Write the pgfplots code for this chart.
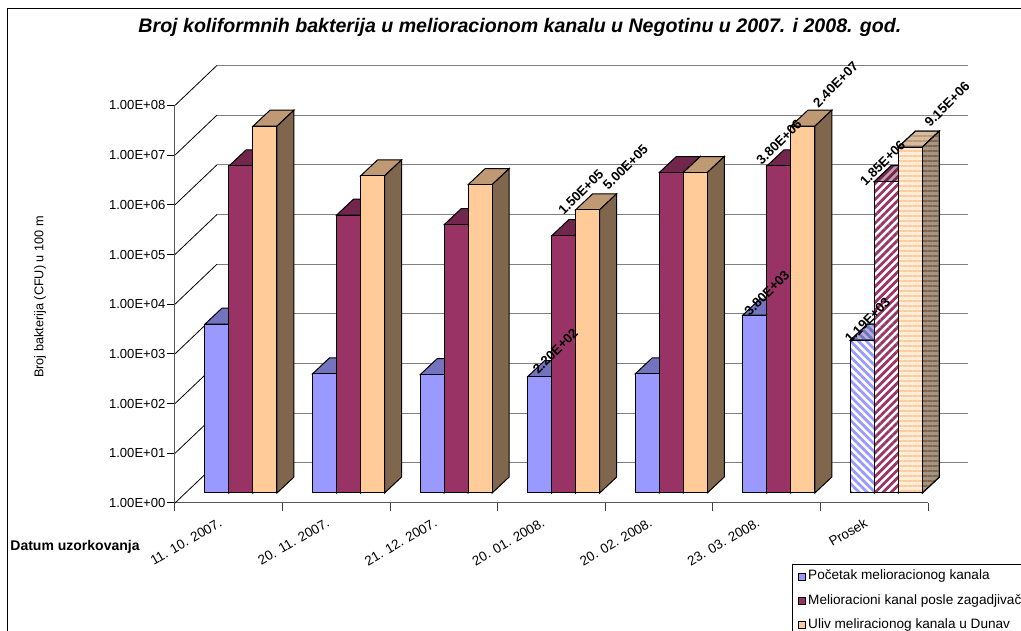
\documentclass[border=0pt]{standalone}
\usepackage{fontspec}
\setmainfont{Liberation Sans}
\usepackage{pgfplots}
\usepackage{pgfplotstable}
\pgfplotsset{compat=1.18}
\usetikzlibrary{patterns.meta}

\definecolor{sa}{HTML}{9999FF}
\definecolor{sb}{HTML}{993366}
\definecolor{sc}{HTML}{FFCC99}
\definecolor{satop}{HTML}{7373BF}
\definecolor{sbtop}{HTML}{73264D}
\definecolor{sctop}{HTML}{BF9973}
\definecolor{scside}{HTML}{80664D}
\definecolor{wall}{HTML}{808080}

% values per sampling date, one column per series
\pgfplotstableread{
x s1 s2 s3
0 2.5e3 3.8e6 2.4e7
1 2.5e2 3.9e5 2.4e6
2 2.4e2 2.5e5 1.6e6
3 2.2e2 1.5e5 5e5
4 2.5e2 2.8e6 2.8e6
5 3.8e3 3.8e6 2.4e7
}\dates
\pgfplotstableread{
x s1 s2 s3
6 1.19e3 1.85e6 9.15e6
}\prosek
% the printed labels, dx dy = offset of the text start from the bar top centre
\pgfplotstableread{
x y dx dy label
2.776 2.2e2 -1.5 2 2.20E+02
3 1.5e5 0 20 1.50E+05
3.224 5e5 20.5 19 5.00E+05
4.776 3.8e3 -5 -1.5 3.80E+03
5 3.8e6 -17 0 3.80E+06
5.224 2.4e7 15.5 18 2.40E+07
5.776 1.19e3 -12 -4 1.19E+03
6 1.85e6 -21 -5 1.85E+06
6.224 9.15e6 19.5 19 9.15E+06
}\labelstab

\pgfdeclareplotmark{nix}{}

\pgfplotsset{
  frontbar/.style={ybar, bar width=24pt, bar shift=#1, draw=black, line width=1pt,
    legend image code/.code={\draw[##1, line width=0.8pt] (0pt,-3.5pt) rectangle (7pt,3.5pt);}},
  % the three faces of a bar, drawn from its top front edge
  cuboid/.style n args={4}{
    only marks, mark=nix, scatter, forget plot,
    visualization depends on={rawy \as \ry},
    scatter/@pre marker code/.code={%
      \begingroup
      \pgfkeys{/pgf/fpu,/pgf/fpu/output format=fixed}%
      \pgfmathparse{ln(\ry)*21.5845}%
      \global\let\barh\pgfmathresult
      \endgroup
      \scope[line width=1pt,draw=black]
      \path[draw,#2] (#1-12pt,0pt)--(#1+12pt,0pt)--(#1+29pt,16pt)--(#1+5pt,16pt)--cycle;
      \path[draw,#3] (#1+12pt,0pt)--(#1+29pt,16pt)--(#1+29pt,16pt-\barh pt)--(#1+12pt,-\barh pt)--cycle;
      \path[draw,#4] (#1-12pt,0pt)--(#1+12pt,0pt)--(#1+12pt,-\barh pt)--(#1-12pt,-\barh pt)--cycle;
    },
    scatter/@post marker code/.code={\endscope},
  },
}
\tikzset{
  stripes/.style n args={4}{preaction={fill=#4},
    pattern={Lines[angle=#1,distance=#3,line width=0.5*#3]},pattern color=#2},
}

\newcommand{\fs}[1]{\fontsize{#1}{#1}\selectfont}

\begin{document}
\begin{tikzpicture}[x=1pt,y=1pt]
\useasboundingbox (0,0) rectangle (1021,631);
\clip (0,0) rectangle (1021,631);
\draw[line width=1.2pt] (7.5,-5) -- (7.5,622.5) -- (1030,622.5);

% front plane: ticks, labels, back wall lines and side wall diagonals
\begin{axis}[
  at={(175pt,128pt)}, scale only axis, width=753pt, height=397.6pt,
  ymode=log, xmin=0, xmax=7, ymin=1, ymax=1e8, clip=false,
  axis x line=bottom, axis y line=left,
  axis line style={-, draw=black!65, line width=1pt},
  ytick={1,1e1,1e2,1e3,1e4,1e5,1e6,1e7,1e8},
  yticklabels={1.00E+00,1.00E+01,1.00E+02,1.00E+03,1.00E+04,1.00E+05,1.00E+06,1.00E+07,1.00E+08},
  yminorticks=false,
  xtick={0.5,1.5,2.5,3.5,4.5,5.5,6.5},
  xticklabels={11. 10. 2007.,20. 11. 2007.,21. 12. 2007.,20. 01. 2008.,20. 02. 2008.,23. 03. 2008.,Prosek},
  minor xtick={0,1,2,3,4,5,6,7},
  tick align=outside,
  major x tick style={draw=none},
  minor x tick style={draw=black!75, line width=1pt},
  minor tick length=8pt,
  y tick style={draw=black, line width=1pt}, major tick length=8pt,
  ticklabel style={font=\fs{13.1}},
  yticklabel style={xshift=2pt},
  xticklabel style={rotate=30, anchor=north east, xshift=-9pt, yshift=3pt, font=\fs{13.4}},
  title={\bfseries\itshape Broj koliformnih bakterija u melioracionom kanalu u Negotinu u 2007. i 2008. god.},
  title style={at={(0.458,1.18)}, anchor=center, font=\fs{19.6}},
  xlabel={\bfseries Datum uzorkovanja},
  xlabel style={at={(-0.1328,-0.11)}, anchor=center, font=\fs{14}},
  ylabel={Broj bakterija (CFU) u 100 m},
  ylabel style={at={(-0.179,0.518)}, anchor=center, rotate=0, font=\fs{12.7}},
]
\pgfplotsinvokeforeach{0,...,8}{
  \draw[wall, line width=1pt] (axis cs:0,1e#1) ++(42pt,40pt) -- ++(751pt,0pt);
  \draw[black, line width=0.8pt] (axis cs:0,1e#1) -- ++(42pt,40pt);
}
\end{axis}

% bars, with the true scale running from the floor 10 px behind the front
\begin{axis}[
  at={(187.2pt,138pt)}, scale only axis, width=753pt, height=397.6pt,
  ymode=log, log origin=infty, xmin=-0.5, xmax=6.5, ymin=1, ymax=1e8,
  hide axis, clip=false,
  legend cell align=left,
  legend style={at={(0.8032,-0.1786)}, anchor=north west, draw=black, line width=0.8pt,
    font=\fs{13.6}, row sep=7.2pt, inner xsep=6pt, inner ysep=3.5pt,
    nodes={text height=10pt, text depth=3pt},
    /tikz/every even column/.append style={column sep=7pt}},
]
\addplot[frontbar=-24pt, fill=sa] table[x=x,y=s1] {\dates};
\addlegendentry{Početak melioracionog kanala}
\addplot[frontbar=0pt, fill=sb] table[x=x,y=s2] {\dates};
\addlegendentry{Melioracioni kanal posle zagadjivača\hspace{25pt}}
\addplot[frontbar=24pt, fill=sc] table[x=x,y=s3] {\dates};
\addlegendentry{Uliv meliracionog kanala u Dunav}
\addplot[frontbar=-24pt, forget plot, fill=sa] table[x=x,y=s1] {\prosek};
\addplot[frontbar=0pt, forget plot, fill=sb] table[x=x,y=s2] {\prosek};
\addplot[frontbar=24pt, forget plot, fill=sc] table[x=x,y=s3] {\prosek};

\addplot[cuboid={-24pt}{fill=satop}{fill=black!50}{fill=sa}] table[x=x,y=s1] {\dates};
\addplot[cuboid={0pt}{fill=sbtop}{fill=sbtop}{fill=sb}] table[x=x,y=s2] {\dates};
\addplot[cuboid={24pt}{fill=sctop}{fill=scside}{fill=sc}] table[x=x,y=s3] {\dates};

\addplot[cuboid={-24pt}{stripes={-45}{satop}{5.6pt}{satop!55!white}}{fill=black!50}{stripes={-45}{sa}{5.6pt}{white}}] table[x=x,y=s1] {\prosek};
\addplot[cuboid={0pt}{stripes={45}{sbtop}{5.6pt}{sbtop!45!white}}{fill=sbtop}{stripes={45}{sb}{5.6pt}{white}}] table[x=x,y=s2] {\prosek};
\addplot[cuboid={24pt}{stripes={0}{sctop}{5pt}{sctop!65!white}}{stripes={0}{scside}{5pt}{scside!70!white}}{stripes={0}{sc}{5pt}{sc!35!white}}] table[x=x,y=s3] {\prosek};

\addplot[only marks, mark=nix, forget plot,
  point meta=explicit symbolic,
  visualization depends on={\thisrow{dx} \as \dx},
  visualization depends on={\thisrow{dy} \as \dy},
  nodes near coords,
  nodes near coords style={anchor=base west, inner sep=0pt,
    shift={(\dx pt,\dy pt)}, rotate=45, font=\fs{13.3}\bfseries, text=black},
] table[x=x,y=y,meta=label] {\labelstab};
\end{axis}
\end{tikzpicture}
\end{document}
